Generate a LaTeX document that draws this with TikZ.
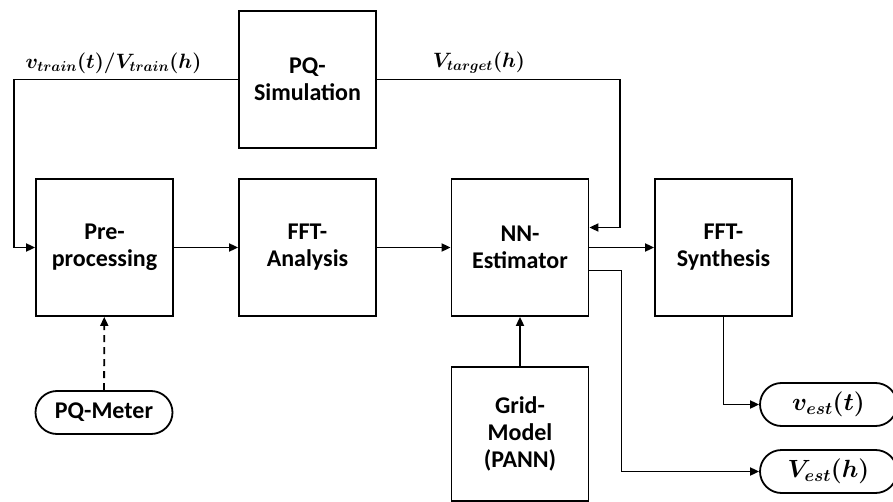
\documentclass[tikz,border=0pt]{standalone}
\usepackage{fontspec}
\setmainfont{Carlito}
\usepackage{amsmath}
\usepackage{bm}
\usetikzlibrary{arrows.meta,positioning,shapes.misc}

\tikzset{
  block/.style={draw, line width=1.8pt, minimum width=137pt, minimum height=137pt,
    align=center, inner sep=0pt, font=\fontsize{24}{27}\selectfont\bfseries},
  pill/.style={draw, rounded rectangle, line width=1.8pt, minimum width=137pt,
    minimum height=43pt, inner sep=0pt, font=\fontsize{24}{27}\selectfont\bfseries},
  conn/.style={line width=1.8pt, -{Triangle[length=9pt,width=8pt]}},
  sig/.style={font=\fontsize{22}{26}\selectfont},
}

\begin{document}
\begin{tikzpicture}[x=1pt,y=-1pt]
  \useasboundingbox (0,0) rectangle (893,502);

  % blocks
  \node[block] (sim) at (307.5,79.5) {PQ-\\Simulation};
  \node[block] (pre) at (104.5,247.5) {Pre-\\processing};
  \node[block] (fft) at (307.5,247.5) {FFT-\\Analysis};
  \node[block] (nn) at (520,247.5) {NN-\\Estimator};
  \node[block] (syn) at (723.5,247.5) {FFT-\\Synthesis};
  \node[block, minimum height=134pt] (grid) at (520,434) {Grid-\\Model\\(PANN)};

  % inputs and outputs
  \node[pill] (meter) at (104,412.5) {PQ-Meter};
  \node[pill] (vt) at (828.5,404.5) {$\bm{v_{est}(t)}$};
  \node[pill] (vh) at (828.5,471.5) {$\bm{V_{est}(h)}$};

  % connectors
  \coordinate (lcorner) at (14,79.5);
  \coordinate (rcorner) at (620,79.5);
  \draw[conn] (sim.west) -- (lcorner) |- (pre.west);
  \draw[conn] (sim.east) -- (rcorner) |- ([yshift=20pt]nn.east);
  \draw[conn] (pre) -- (fft);
  \draw[conn] (fft) -- (nn);
  \draw[conn] (nn) -- (syn);
  \draw[conn] ([yshift=-23pt]nn.east) -- ++(32,0) |- (vh.west);
  \draw[conn] (syn.south) |- (vt.west);
  \draw[conn] (grid) -- (nn);
  \draw[conn, dashed, dash pattern=on 7pt off 5pt] (meter) -- (pre);

  % signal labels
  \node[sig] (trainlbl) at (113.5,63) {$\bm{v_{train}(t)/V_{train}(h)}$};
  \node[sig] (targetlbl) at (479,63) {$\bm{V_{target}(h)}$};
\end{tikzpicture}
\end{document}
